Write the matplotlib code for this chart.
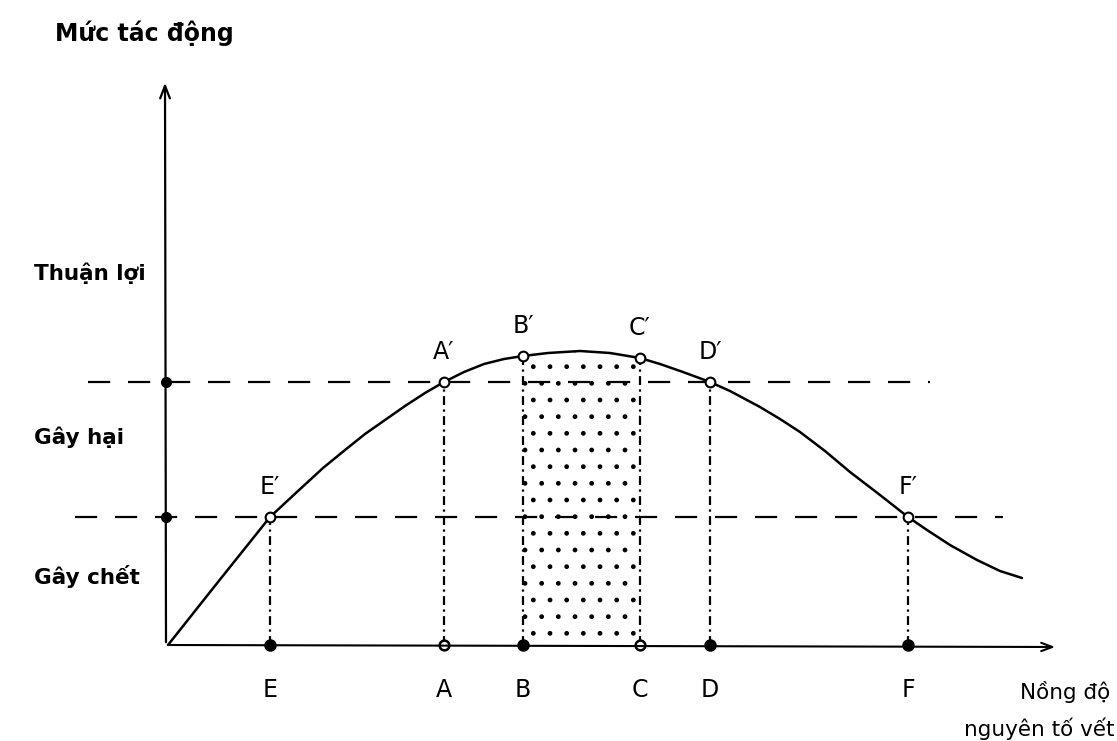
import matplotlib.pyplot as plt
import numpy as np

# toa do: x = nong do, y = muc tac dong (goc toa do tai 0,0)
curve_x = [0, 50, 102, 130, 155, 177, 197, 217, 237, 257, 276, 296, 316, 336, 355, 380, 412, 442, 472,
           492, 515, 542, 562, 592, 612, 632, 657, 682, 712, 740, 759, 782, 809, 832, 854]
curve_y = [0, 63, 128, 154, 177, 195, 211, 225, 239, 252, 263, 273, 281, 286, 289, 292, 294, 292, 287,
           281, 273, 263, 254, 238, 226, 213, 194, 173, 150, 128, 115, 100, 85, 74, 67]

point_names = ['E', 'A', 'B', 'C', 'D', 'F']
point_x = [102, 276, 355, 472, 542, 740]
point_y = [128, 263, 289, 287, 263, 128]
foot_filled = [True, False, True, False, True, True]

levels = [263, 128]
level_start = [-80, -93]
level_end = [762, 835]

zone_names = ['Thuận lợi', 'Gây hại', 'Gây chết']
zone_y = [372, 208, 68]

fig = plt.figure(figsize=(11.17, 7.41), dpi=100)
ax = fig.add_axes([0, 0, 1, 1])
ax.set_xlim(-168, 949)
ax.set_ylim(-96, 645)
ax.axis('off')

# truc toa do
ax.annotate('', xy=(-3, 565), xytext=(-2, 0),
            arrowprops=dict(arrowstyle='->,head_length=0.9,head_width=0.35', lw=1.6, color='black'))
ax.annotate('', xy=(890, -2), xytext=(-2, 0),
            arrowprops=dict(arrowstyle='->,head_length=0.8,head_width=0.3', lw=1.5, color='black'))

# vung toi uu (cham)
cx = np.array(curve_x)
cy = np.array(curve_y)
mask = (cx >= point_x[2]) & (cx <= point_x[3])
ax.fill_between(cx[mask], 0, cy[mask], facecolor='none', edgecolor='black', hatch='.', linewidth=0)

# duong ngang net dut
for lv, x0, x1 in zip(levels, level_start, level_end):
    ax.plot([x0, x1], [lv, lv], color='black', lw=1.6, dashes=(10, 8))
    ax.plot(-2, lv, 'o', color='black', ms=7)

# duong cong
ax.plot(cx, cy, color='black', lw=1.8, solid_capstyle='round', solid_joinstyle='round')

# duong doc
for name, px, py, filled in zip(point_names, point_x, point_y, foot_filled):
    ax.plot([px, px], [0, py], color='black', lw=1.6, dashes=(4, 2, 1, 2))
    ax.plot(px, py, 'o', mfc='white', mec='black', ms=7, mew=1.5)
    if filled:
        ax.plot(px, 0, 'o', color='black', ms=8)
    else:
        ax.plot(px, 0, 'o', mfc='white', mec='black', ms=7, mew=1.8)
    ax.text(px, -45, name, ha='center', va='center', fontsize=17, family='DejaVu Sans')
    ax.text(px, py + 30, name + '\u2032', ha='center', va='center', fontsize=17, family='DejaVu Sans')

# nhan
ax.text(-113, 612, 'Mức tác động', ha='left', va='center', fontsize=17, fontweight='bold', family='DejaVu Sans')
for name, zy in zip(zone_names, zone_y):
    ax.text(-134, zy, name, ha='left', va='center', fontsize=15.5, fontweight='bold', family='DejaVu Sans')
ax.text(942, -47, 'Nồng độ', ha='right', va='center', fontsize=15.5, family='DejaVu Sans')
ax.text(947, -84, 'nguyên tố vết', ha='right', va='center', fontsize=15.5, family='DejaVu Sans')

fig.savefig('out.png', dpi=100)
